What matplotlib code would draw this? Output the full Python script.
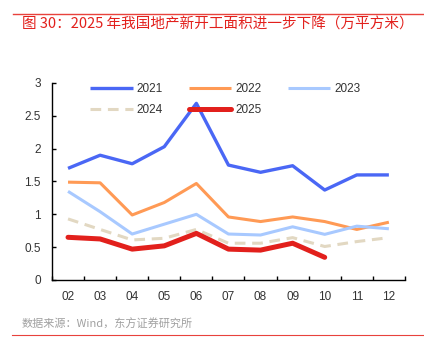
import numpy as np
import matplotlib.pyplot as plt
from matplotlib.lines import Line2D

plt.rcParams['font.family'] = ['Liberation Sans', 'Noto Sans CJK SC', 'DejaVu Sans']

months = ["02", "03", "04", "05", "06", "07", "08", "09", "10", "11", "12"]
y2021 = [1.70, 1.90, 1.77, 2.03, 2.69, 1.75, 1.64, 1.74, 1.37, 1.60, 1.60]
y2022 = [1.49, 1.48, 0.99, 1.18, 1.47, 0.96, 0.89, 0.96, 0.89, 0.77, 0.88]
y2023 = [1.35, 1.04, 0.70, 0.85, 1.00, 0.70, 0.685, 0.81, 0.695, 0.82, 0.78]
y2024 = [0.93, 0.77, 0.61, 0.635, 0.77, 0.56, 0.56, 0.645, 0.51, 0.585, 0.645]
y2025 = [0.65, 0.625, 0.47, 0.52, 0.71, 0.47, 0.455, 0.56, 0.345]

title = "图 30：2025 年我国地产新开工面积进一步下降（万平方米）"
source = "数据来源：Wind，东方证券研究所"

fig = plt.figure(figsize=(4.24, 3.61), dpi=100)
ax = fig.add_axes([0.1226, 0.2244, 0.8324, 0.5457])

x = np.arange(len(months))
l21, = ax.plot(x, y2021, color='#4A67F5', lw=2.4, label='2021', solid_capstyle='butt')
l22, = ax.plot(x, y2022, color='#FF9A55', lw=2.2, label='2022', solid_capstyle='butt')
l23, = ax.plot(x, y2023, color='#A8C9FF', lw=2.2, label='2023', solid_capstyle='butt')
l24, = ax.plot(x, y2024, color='#E2D8C2', lw=2.2, ls=(0, (3.5, 2.2)), label='2024')
l25, = ax.plot(x[:len(y2025)], y2025, color='#E2201C', lw=3.6, label='2025',
               solid_capstyle='round')

ax.set_xlim(-0.5, len(months) - 0.5)
ax.set_ylim(0, 3)
ax.set_yticks([0, 0.5, 1, 1.5, 2, 2.5, 3])
ax.set_yticklabels(["0", "0.5", "1", "1.5", "2", "2.5", "3"])
ax.set_xticks(x)
ax.set_xticklabels(months)
ax.set_xticks(np.arange(-0.5, len(months), 1), minor=True)
ax.tick_params(axis='x', which='major', length=0, pad=8, labelsize=8.5, labelcolor='#333333')
ax.tick_params(axis='x', which='minor', direction='in', length=3, width=1)
ax.tick_params(axis='y', direction='in', length=3, width=1, pad=8, labelsize=8.5,
               labelcolor='#333333')
for s in ['top', 'right']:
    ax.spines[s].set_visible(False)
for s in ['left', 'bottom']:
    ax.spines[s].set_linewidth(1)
    ax.spines[s].set_color('black')

handles = [l21, l24, l22, l25, l23]
leg = ax.legend(handles, [h.get_label() for h in handles], ncol=3, frameon=False,
                loc='upper left', bbox_to_anchor=(0.078, 1.055), handlelength=3.6,
                handletextpad=0.35, columnspacing=2.2, labelspacing=0.75, fontsize=8.5)
for t in leg.get_texts():
    t.set_color('#333333')

# title and source with red rules
fig.add_artist(Line2D([13 / 424, 1.0], [1 - 14 / 361, 1 - 14 / 361], color='#E8423C', lw=1))
fig.text(22 / 424, 1 - 25 / 361, title, color='#E2201C', fontsize=10.5, va='center',
         family=['Noto Sans CJK SC', 'DejaVu Sans'])
fig.add_artist(Line2D([12 / 424, 1.0], [1 - 335 / 361, 1 - 335 / 361], color='#E8423C', lw=0.8))
fig.text(22 / 424, 1 - 324 / 361, source, color='#A0A0A0', fontsize=8, va='center',
         family=['Noto Sans CJK SC', 'DejaVu Sans'])

fig.savefig('out.png', dpi=100)
